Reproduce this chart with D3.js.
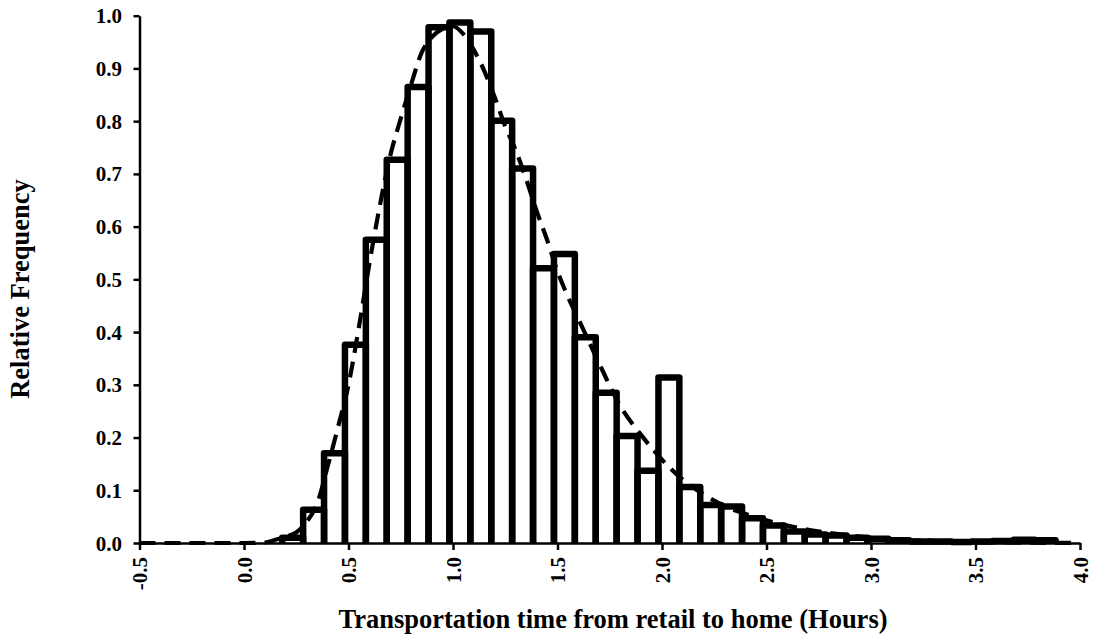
<!DOCTYPE html>
<html><head><meta charset="utf-8">
<script src="https://cdn.jsdelivr.net/npm/d3@7"></script>
<style>
body{margin:0;background:#fff}
text{font-family:"Liberation Serif","Times New Roman",serif;font-weight:bold;fill:#000}
</style>
</head><body>
<svg id="c" width="1094" height="640"></svg>
<script>
// Histogram bins (left edge, hours) and relative frequencies
const binLeft = [0.183,0.283,0.383,0.483,0.583,0.683,0.783,0.883,0.983,1.083,1.183,1.283,1.383,1.483,1.583,1.683,1.783,1.883,1.983,2.083,2.183,2.283,2.383,2.483,2.583,2.683,2.783,2.883,2.983,3.083,3.183,3.283,3.383,3.483,3.583,3.683,3.783];
const binFreq = [0.010,0.063,0.170,0.376,0.575,0.727,0.865,0.978,0.987,0.970,0.801,0.710,0.521,0.548,0.390,0.285,0.203,0.137,0.314,0.106,0.072,0.069,0.047,0.033,0.022,0.016,0.014,0.010,0.008,0.005,0.003,0.003,0.002,0.003,0.004,0.006,0.005];
const binWidth = 0.1;

// Fitted distribution (dashed curve)
const fitX = [-0.5,0.0,0.1,0.15,0.2,0.25,0.3,0.35,0.4,0.45,0.5,0.55,0.6,0.65,0.7,0.75,0.8,0.85,0.9,0.95,1.0,1.05,1.1,1.15,1.2,1.25,1.3,1.35,1.4,1.45,1.5,1.55,1.6,1.7,1.8,1.9,2.0,2.1,2.2,2.3,2.4,2.5,2.6,2.7,2.8,3.0,3.2,3.5,4.0];
const fitY = [0,0,0.001,0.006,0.012,0.02,0.04,0.075,0.145,0.22,0.30,0.41,0.53,0.64,0.735,0.805,0.87,0.93,0.96,0.975,0.98,0.965,0.935,0.895,0.845,0.79,0.745,0.69,0.63,0.575,0.515,0.467,0.425,0.34,0.26,0.205,0.158,0.12,0.092,0.07,0.055,0.043,0.033,0.025,0.019,0.01,0.005,0.002,0.0];

const xTickValues = [-0.5,0.0,0.5,1.0,1.5,2.0,2.5,3.0,3.5,4.0];
const xTickLabels = ["-0.5","0.0","0.5","1.0","1.5","2.0","2.5","3.0","3.5","4.0"];
const yTickValues = [0,0.1,0.2,0.3,0.4,0.5,0.6,0.7,0.8,0.9,1.0];
const yTickLabels = ["0.0","0.1","0.2","0.3","0.4","0.5","0.6","0.7","0.8","0.9","1.0"];

const xTitle = "Transportation time from retail to home (Hours)";
const yTitle = "Relative Frequency";

const svg = d3.select("#c");
const x = d3.scaleLinear().domain([-0.5,4.0]).range([139.5,1080]);
const y = d3.scaleLinear().domain([0,1]).range([543,15.7]);

const bins = binLeft.map((b,i)=>({b, v: binFreq[i]}));

// bars: white fill, thick black outline without bottom edge
const gBars = svg.append("g");
gBars.selectAll("rect.fill").data(bins).join("rect")
  .attr("class","fill")
  .attr("x", d=>x(d.b)).attr("width", d=>x(d.b+binWidth)-x(d.b))
  .attr("y", d=>y(d.v)).attr("height", d=>y(0)-y(d.v))
  .attr("fill","#fff");
gBars.selectAll("path").data(bins).join("path")
  .attr("d", d=>{
    const p = d3.path();
    p.moveTo(x(d.b), y(0));
    p.lineTo(x(d.b), y(d.v));
    p.lineTo(x(d.b+binWidth), y(d.v));
    p.lineTo(x(d.b+binWidth), y(0));
    return p.toString();
  })
  .attr("fill","none").attr("stroke","#000").attr("stroke-width",6.5)
  .attr("stroke-linejoin","round");

// dashed fit curve
const line = d3.line().x(d=>x(d[0])).y(d=>y(d[1])).curve(d3.curveMonotoneX);
svg.append("path")
  .datum(fitX.map((v,i)=>[v, fitY[i]]))
  .attr("d", line)
  .attr("fill","none").attr("stroke","#000").attr("stroke-width",4.2)
  .attr("stroke-dasharray","16,9");

const tickFont = "21px";

// y axis
const yAxis = svg.append("g").attr("transform","translate(139.5,0)")
  .call(d3.axisLeft(y).tickValues(yTickValues).tickFormat((d,i)=>yTickLabels[i]).tickSize(6).tickSizeOuter(0));
yAxis.select(".domain").attr("stroke","#000").attr("stroke-width",2.5);
yAxis.selectAll(".tick line").attr("stroke","#000").attr("stroke-width",2.5);
yAxis.selectAll(".tick text").attr("x",-17.5).attr("dy",null).attr("y",7)
  .attr("text-anchor","end").style("font-size",tickFont).style("font-family","'Liberation Serif','Times New Roman',serif").style("font-weight","bold");

// x axis
const xAxis = svg.append("g").attr("transform","translate(0,543)")
  .call(d3.axisBottom(x).tickValues(xTickValues).tickFormat((d,i)=>xTickLabels[i]).tickSize(7).tickSizeOuter(0));
xAxis.select(".domain").attr("stroke","#000").attr("stroke-width",2.5);
xAxis.selectAll(".tick line").attr("stroke","#000").attr("stroke-width",2.5);
xAxis.selectAll(".tick text").attr("dy",null)
  .attr("transform","rotate(-90)").attr("x",-14).attr("y",7)
  .attr("text-anchor","end").style("font-size",tickFont).style("font-family","'Liberation Serif','Times New Roman',serif").style("font-weight","bold");

// titles
svg.append("text").attr("x",613).attr("y",628).attr("text-anchor","middle")
  .style("font-size","26.5px").text(xTitle);
svg.append("text").attr("transform","translate(29,289) rotate(-90)").attr("text-anchor","middle")
  .style("font-size","26.5px").text(yTitle);
</script>
</body></html>
